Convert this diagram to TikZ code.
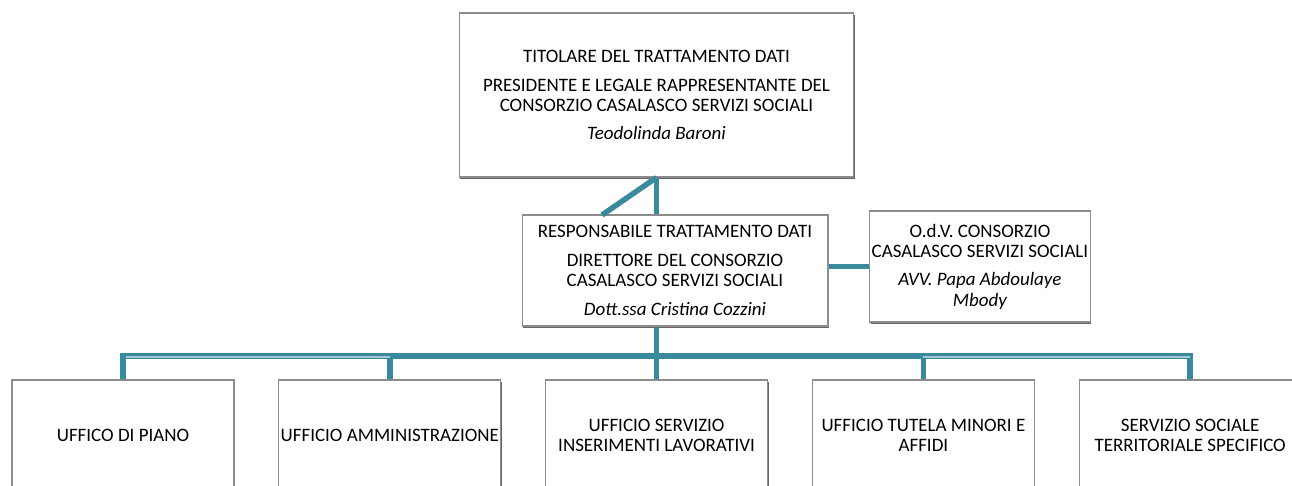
\documentclass[tikz,border=0pt]{standalone}
\usepackage{fontspec}
\setmainfont{Carlito}
\usepackage{xcolor}
\usepackage{tikz}
\usetikzlibrary{positioning,calc,shadows}

\definecolor{linkteal}{HTML}{3A8A9E}
\definecolor{linklight}{HTML}{A3C8D4}
\definecolor{boxline}{HTML}{8C8C8C}

\begin{document}
\begin{tikzpicture}[x=0.02cm,y=-0.02cm,
    box/.style={draw=boxline, line width=0.6pt, fill=white, align=center, inner sep=1pt,
        font=\fontsize{10.8}{11.4}\selectfont,
        drop shadow={shadow xshift=0.6pt, shadow yshift=-1.2pt, fill=black!60, opacity=1}},
    link/.style={draw=linkteal, line width=3.1pt},
    hilite/.style={draw=linklight, line width=1.6pt}]
    \useasboundingbox (0,0) rectangle (1292,485);

    % Top Box
    \node[box, minimum width=7.9cm, minimum height=3.28cm] (tit) at (656.5,95)
        {TITOLARE DEL TRATTAMENTO DATI\\[5pt]
         PRESIDENTE E LEGALE RAPPRESENTANTE DEL\\
         CONSORZIO CASALASCO SERVIZI SOCIALI\\[5pt]
         \textit{Teodolinda Baroni}};

    % Middle Box
    \node[box, minimum width=6.12cm, minimum height=2.22cm] (resp) at (675,270.5)
        {RESPONSABILE TRATTAMENTO DATI\\[5pt]
         DIRETTORE DEL CONSORZIO\\
         CASALASCO SERVIZI SOCIALI\\[5pt]
         \textit{Dott.ssa Cristina Cozzini}};
    \node[box, minimum width=4.4cm, minimum height=2.22cm] (odv) at (980,266.5)
        {O.d.V. CONSORZIO\\
         CASALASCO SERVIZI SOCIALI\\[5pt]
         \textit{AVV. Papa Abdoulaye}\\
         \textit{Mbody}};

    % Bottom Boxes
    \foreach \i/\label in {1/{UFFICO DI PIANO}, 2/{UFFICIO AMMINISTRAZIONE},
        3/{UFFICIO SERVIZIO\\INSERIMENTI LAVORATIVI}, 4/{UFFICIO TUTELA MINORI E\\AFFIDI},
        5/{SERVIZIO SOCIALE\\TERRITORIALE SPECIFICO}} {
        \node[box, minimum width=4.44cm, minimum height=2.2cm] (uff\i) at (123+266.8*\i-266.8,435) {\label};
    }

    % Links
    \coordinate (spur) at (602,215);
    \coordinate (bus) at (656.6,356);
    \draw[link] (tit.south) -- (tit.south |- resp.north);
    \draw[link] (tit.south) -- (spur);
    \draw[link] (resp.east |- odv.west) -- (odv.west);
    \draw[link] (resp.south -| bus) -- (bus);
    \foreach \i in {1,...,5} {
        \draw[link] (bus) -| (uff\i.north);
    }
    % light band on the outer parts of the bus
    \draw[hilite] ([yshift=-0.6pt]bus -| uff1.north) ++(3,0) -- ([yshift=-0.6pt]bus -| uff2.north);
    \draw[hilite] ([yshift=-0.6pt]bus -| uff4.north) -- ([yshift=-0.6pt]bus -| uff5.north) ++(-3,0);
\end{tikzpicture}
\end{document}
